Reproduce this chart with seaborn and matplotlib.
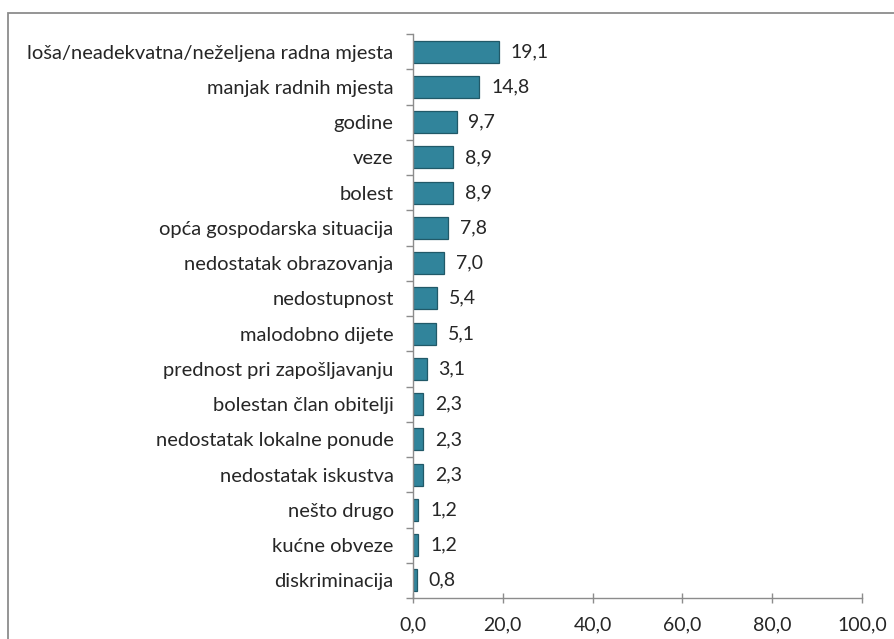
import matplotlib
matplotlib.use("Agg")
import matplotlib.pyplot as plt
import seaborn as sns
import pandas as pd
from matplotlib.ticker import FixedLocator, FuncFormatter, NullFormatter
from matplotlib.patches import Rectangle

categories = [
    "loša/neadekvatna/neželjena radna mjesta",
    "manjak radnih mjesta",
    "godine",
    "veze",
    "bolest",
    "opća gospodarska situacija",
    "nedostatak obrazovanja",
    "nedostupnost",
    "malodobno dijete",
    "prednost pri zapošljavanju",
    "bolestan član obitelji",
    "nedostatak lokalne ponude",
    "nedostatak iskustva",
    "nešto drugo",
    "kućne obveze",
    "diskriminacija",
]
values = [19.1, 14.8, 9.7, 8.9, 8.9, 7.8, 7.0, 5.4, 5.1, 3.1, 2.3, 2.3, 2.3, 1.2, 1.2, 0.8]
x_ticks = [0, 20, 40, 60, 80, 100]

df = pd.DataFrame({"kategorija": categories, "postotak": values})

sns.set_theme(style="white")
plt.rcParams["font.family"] = ["Lato", "DejaVu Sans"]

W, H = 894, 639
fig = plt.figure(figsize=(W / 100, H / 100), dpi=100)
ax = fig.add_axes([413 / W, 1 - 598 / H, (862 - 413) / W, (598 - 34) / H])

# outer chart frame
fig.patches.append(Rectangle((8 / W, -0.1), 1.2, 1 - 13 / H + 0.1,
                             transform=fig.transFigure, fill=False,
                             edgecolor="#8c8c8c", linewidth=1.3, zorder=0))

bar_color = "#31849B"
sns.barplot(data=df, x="postotak", y="kategorija", orient="h", ax=ax,
            color=bar_color, saturation=1, width=0.62,
            edgecolor="#215968", linewidth=0.9)

for i, v in enumerate(values):
    ax.text(v + 2.6, i, f"{v:.1f}".replace(".", ","), va="center", ha="left",
            fontsize=14, color="#262626")

ax.set_xlim(0, 100)
ax.set_ylim(len(categories) - 0.5, -0.5)
ax.xaxis.set_major_locator(FixedLocator(x_ticks))
ax.xaxis.set_major_formatter(FuncFormatter(lambda v, p: f"{v:.1f}".replace(".", ",")))
ax.set_xlabel("")
ax.set_ylabel("")

# category labels centred on bars, tick marks at category boundaries
ax.set_yticks(range(len(categories)))
ax.set_yticklabels(categories)
ax.yaxis.set_minor_locator(FixedLocator([i - 0.5 for i in range(len(categories) + 1)]))
ax.yaxis.set_minor_formatter(NullFormatter())
ax.tick_params(axis="y", which="major", length=0, pad=14, labelsize=14.5, labelcolor="#262626")
ax.tick_params(axis="y", which="minor", left=True, length=5, width=1, color="#8c8c8c")
ax.tick_params(axis="x", which="major", bottom=True, direction="inout", length=7, width=1,
               color="#8c8c8c", labelsize=14, labelcolor="#262626", pad=10)

for side in ["top", "right"]:
    ax.spines[side].set_visible(False)
for side in ["left", "bottom"]:
    ax.spines[side].set_color("#8c8c8c")
    ax.spines[side].set_linewidth(1)

fig.savefig("out.png", dpi=100, facecolor="white")
